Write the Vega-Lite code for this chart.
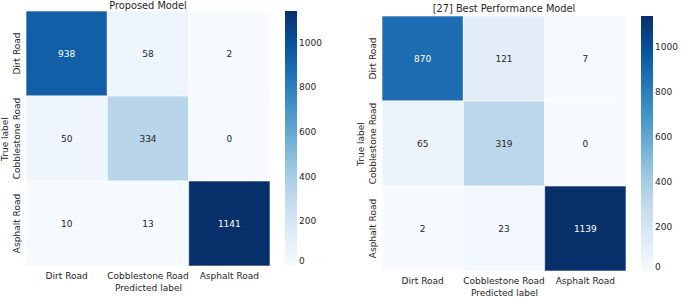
{
  "$schema": "https://vega.github.io/schema/vega-lite/v6.json",
  "padding": {"left": 0, "top": 0, "right": 0, "bottom": 0},
  "background": "white",
  "config": {
    "view": {"stroke": null},
    "font": "DejaVu Sans",
    "axis": {"labelFont": "DejaVu Sans", "titleFont": "DejaVu Sans", "labelFontSize": 9, "titleFontSize": 9, "labelColor": "#262626", "titleColor": "#262626", "titleFontWeight": "normal", "ticks": false, "tickSize": 0, "domain": false, "grid": false, "labelPadding": 5, "titlePadding": 3},
    "legend": {"labelFont": "DejaVu Sans", "labelFontSize": 9, "labelColor": "#262626", "labelOffset": 7, "gradientThickness": 12, "gradientStrokeWidth": 0, "labelBaseline": "middle", "direction": "vertical", "orient": "right"},
    "title": {"font": "DejaVu Sans", "fontSize": 9.8, "fontWeight": "normal", "color": "#262626"},
    "concat": {"spacing": 34}
  },
  "data": {"values": [
    {"model": "Proposed Model", "true": "Dirt Road", "pred": "Dirt Road", "value": 938},
    {"model": "Proposed Model", "true": "Dirt Road", "pred": "Cobblestone Road", "value": 58},
    {"model": "Proposed Model", "true": "Dirt Road", "pred": "Asphalt Road", "value": 2},
    {"model": "Proposed Model", "true": "Cobblestone Road", "pred": "Dirt Road", "value": 50},
    {"model": "Proposed Model", "true": "Cobblestone Road", "pred": "Cobblestone Road", "value": 334},
    {"model": "Proposed Model", "true": "Cobblestone Road", "pred": "Asphalt Road", "value": 0},
    {"model": "Proposed Model", "true": "Asphalt Road", "pred": "Dirt Road", "value": 10},
    {"model": "Proposed Model", "true": "Asphalt Road", "pred": "Cobblestone Road", "value": 13},
    {"model": "Proposed Model", "true": "Asphalt Road", "pred": "Asphalt Road", "value": 1141},
    {"model": "[27] Best Performance Model", "true": "Dirt Road", "pred": "Dirt Road", "value": 870},
    {"model": "[27] Best Performance Model", "true": "Dirt Road", "pred": "Cobblestone Road", "value": 121},
    {"model": "[27] Best Performance Model", "true": "Dirt Road", "pred": "Asphalt Road", "value": 7},
    {"model": "[27] Best Performance Model", "true": "Cobblestone Road", "pred": "Dirt Road", "value": 65},
    {"model": "[27] Best Performance Model", "true": "Cobblestone Road", "pred": "Cobblestone Road", "value": 319},
    {"model": "[27] Best Performance Model", "true": "Cobblestone Road", "pred": "Asphalt Road", "value": 0},
    {"model": "[27] Best Performance Model", "true": "Asphalt Road", "pred": "Dirt Road", "value": 2},
    {"model": "[27] Best Performance Model", "true": "Asphalt Road", "pred": "Cobblestone Road", "value": 23},
    {"model": "[27] Best Performance Model", "true": "Asphalt Road", "pred": "Asphalt Road", "value": 1139}
  ]},
  "hconcat": [
    {
      "transform": [{"filter": "datum.model === 'Proposed Model'"}],
      "width": 244,
      "height": 255,
      "title": {"text": "Proposed Model", "offset": 0},
      "encoding": {
        "x": {"field": "pred", "type": "nominal", "sort": ["Dirt Road", "Cobblestone Road", "Asphalt Road"], "title": "Predicted label", "axis": {"labelAngle": 0}},
        "y": {"field": "true", "type": "nominal", "sort": ["Dirt Road", "Cobblestone Road", "Asphalt Road"], "title": "True label", "axis": {"labelAngle": -90}}
      },
      "layer": [
        {"mark": {"type": "rect", "stroke": "white", "strokeWidth": 1, "strokeOpacity": 0.6},
         "encoding": {"color": {"field": "value", "type": "quantitative", "scale": {"type": "linear", "interpolate": "rgb", "domain": [0, 142.625, 285.25, 427.875, 570.5, 713.125, 855.75, 998.375, 1141], "range": ["#f7fbff", "#deebf7", "#c6dbef", "#9ecae1", "#6baed6", "#4292c6", "#2171b5", "#08519c", "#08306b"]}, "legend": {"title": null, "gradientLength": 255, "offset": 15, "format": "d", "values": [0, 200, 400, 600, 800, 1000]}}}},
        {"mark": {"type": "text", "fontSize": 9, "font": "DejaVu Sans"},
         "encoding": {"text": {"field": "value", "type": "quantitative", "format": "d"}, "color": {"condition": {"test": "datum.value > 600", "value": "white"}, "value": "#262626"}}}
      ]
    },
    {
      "transform": [{"filter": "datum.model === '[27] Best Performance Model'"}],
      "width": 244,
      "height": 260,
      "title": {"text": "[27] Best Performance Model", "offset": -3},
      "encoding": {
        "x": {"field": "pred", "type": "nominal", "sort": ["Dirt Road", "Cobblestone Road", "Asphalt Road"], "title": "Predicted label", "axis": {"labelAngle": 0}},
        "y": {"field": "true", "type": "nominal", "sort": ["Dirt Road", "Cobblestone Road", "Asphalt Road"], "title": "True label", "scale": {"range": [5, 260]}, "axis": {"labelAngle": -90}}
      },
      "layer": [
        {"mark": {"type": "rect", "stroke": "white", "strokeWidth": 1, "strokeOpacity": 0.6},
         "encoding": {"color": {"field": "value", "type": "quantitative", "scale": {"type": "linear", "interpolate": "rgb", "domain": [0, 142.375, 284.75, 427.125, 569.5, 711.875, 854.25, 996.625, 1139], "range": ["#f7fbff", "#deebf7", "#c6dbef", "#9ecae1", "#6baed6", "#4292c6", "#2171b5", "#08519c", "#08306b"]}, "legend": {"title": null, "gradientLength": 256, "offset": 10, "padding": 5, "format": "d", "values": [0, 200, 400, 600, 800, 1000]}}}},
        {"mark": {"type": "text", "fontSize": 9, "font": "DejaVu Sans"},
         "encoding": {"text": {"field": "value", "type": "quantitative", "format": "d"}, "color": {"condition": {"test": "datum.value > 600", "value": "white"}, "value": "#262626"}}}
      ]
    }
  ],
  "resolve": {"scale": {"color": "independent"}, "legend": {"color": "independent"}}
}
